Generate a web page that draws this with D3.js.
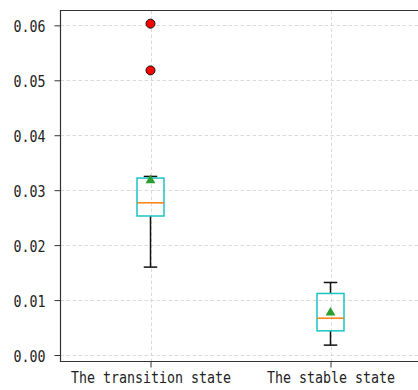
<!DOCTYPE html>
<html lang="en">
<head>
  <meta charset="utf-8" />
  <title>Box plot</title>
  <script src="https://d3js.org/d3.v7.min.js"></script>
  <style>
    html, body { margin: 0; padding: 0; background: #fff; }
    svg { display: block; }
    .tick text { font-family: "DejaVu Sans Mono", "Liberation Mono", monospace; font-size: 13.3px; fill: #222; }
    .grid line { stroke: #d0d0d0; stroke-dasharray: 3.5 2.5; stroke-width: 0.8; }
  </style>
</head>
<body>
  <svg id="chart" width="418" height="390"></svg>
  <script>
    // box plot data
    const categories = ["The transition state", "The stable state"];
    const whiskerLow = [0.0160, 0.0018];
    const q1 = [0.0253, 0.0044];
    const medians = [0.0277, 0.0067];
    const q3 = [0.0322, 0.0112];
    const whiskerHigh = [0.0325, 0.0132];
    const means = [0.0318, 0.0077];
    const outliers = [[0.0518, 0.0603], []];
    const yTicks = [0.00, 0.01, 0.02, 0.03, 0.04, 0.05, 0.06];

    const svg = d3.select("#chart");
    const m = { left: 60.5, right: 420.5, top: 10.5, bottom: 361.5 };

    const x = d3.scaleLinear().domain([0.5, 2.5]).range([m.left, m.right]);
    const y = d3.scaleLinear().domain([-0.00118, 0.0627]).range([m.bottom, m.top]);
    const boxW = 0.15;
    const stretch = 1.25; // tall glyphs like the original font

    // grid
    const grid = svg.append("g").attr("class", "grid");
    grid.selectAll(".gy").data(yTicks).join("line")
      .attr("x1", m.left).attr("x2", m.right)
      .attr("y1", d => Math.round(y(d)) + 0.5).attr("y2", d => Math.round(y(d)) + 0.5);
    grid.selectAll(".gx").data(categories).join("line")
      .attr("x1", (d, i) => Math.round(x(i + 1)) + 0.5).attr("x2", (d, i) => Math.round(x(i + 1)) + 0.5)
      .attr("y1", m.top).attr("y2", m.bottom);

    // axes
    const yAxis = d3.axisLeft(y).tickValues(yTicks).tickFormat(d3.format(".2f")).tickSize(6).tickPadding(9);
    svg.append("g").attr("transform", `translate(${m.left},0)`).call(yAxis)
      .call(g => g.select(".domain").remove())
      .call(g => g.selectAll("line").attr("stroke", "#333"))
      .call(g => g.selectAll("text").attr("dy", "0.36em").attr("transform", `scale(1,${stretch})`));

    const xAxis = d3.axisBottom(x).tickValues([1, 2]).tickFormat(d => categories[d - 1]).tickSize(6);
    svg.append("g").attr("transform", `translate(0,${m.bottom})`).call(xAxis)
      .call(g => g.select(".domain").remove())
      .call(g => g.selectAll("line").attr("stroke", "#333"))
      .call(g => g.selectAll("text").attr("y", 22 / stretch).attr("dy", 0).attr("transform", `scale(1,${stretch})`));

    // boxes
    const boxes = svg.append("g").selectAll("g").data(categories).join("g");
    boxes.append("line")
      .attr("x1", (d, i) => x(i + 1)).attr("x2", (d, i) => x(i + 1))
      .attr("y1", (d, i) => y(whiskerLow[i])).attr("y2", (d, i) => y(q1[i]))
      .attr("stroke", "#111").attr("stroke-width", 1.5);
    boxes.append("line")
      .attr("x1", (d, i) => x(i + 1)).attr("x2", (d, i) => x(i + 1))
      .attr("y1", (d, i) => y(q3[i])).attr("y2", (d, i) => y(whiskerHigh[i]))
      .attr("stroke", "#111").attr("stroke-width", 1.5);
    [whiskerLow, whiskerHigh].forEach(arr => {
      boxes.append("line")
        .attr("x1", (d, i) => x(i + 1 - boxW / 4)).attr("x2", (d, i) => x(i + 1 + boxW / 4))
        .attr("y1", (d, i) => y(arr[i])).attr("y2", (d, i) => y(arr[i]))
        .attr("stroke", "#111").attr("stroke-width", 1.5);
    });
    boxes.append("rect")
      .attr("x", (d, i) => x(i + 1 - boxW / 2)).attr("width", x(boxW) - x(0))
      .attr("y", (d, i) => y(q3[i])).attr("height", (d, i) => y(q1[i]) - y(q3[i]))
      .attr("fill", "none").attr("stroke", "#1cc3c3").attr("stroke-width", 1.5);
    boxes.append("line")
      .attr("x1", (d, i) => x(i + 1 - boxW / 2)).attr("x2", (d, i) => x(i + 1 + boxW / 2))
      .attr("y1", (d, i) => y(medians[i])).attr("y2", (d, i) => y(medians[i]))
      .attr("stroke", "#ff7f0e").attr("stroke-width", 1.5);
    boxes.append("path")
      .attr("d", d3.symbol(d3.symbolTriangle, 42))
      .attr("transform", (d, i) => `translate(${x(i + 1)},${y(means[i])})`)
      .attr("fill", "#2ca02c");
    boxes.selectAll("circle").data((d, i) => outliers[i].map(v => [i, v])).join("circle")
      .attr("cx", d => x(d[0] + 1)).attr("cy", d => y(d[1])).attr("r", 4.5)
      .attr("fill", "#ff0000").attr("stroke", "#111").attr("stroke-width", 1);

    // spines
    svg.append("path")
      .attr("d", `M${m.right},${m.top}H${m.left}V${m.bottom}H${m.right}`)
      .attr("fill", "none").attr("stroke", "#333").attr("stroke-width", 1.2);
  </script>
</body>
</html>
